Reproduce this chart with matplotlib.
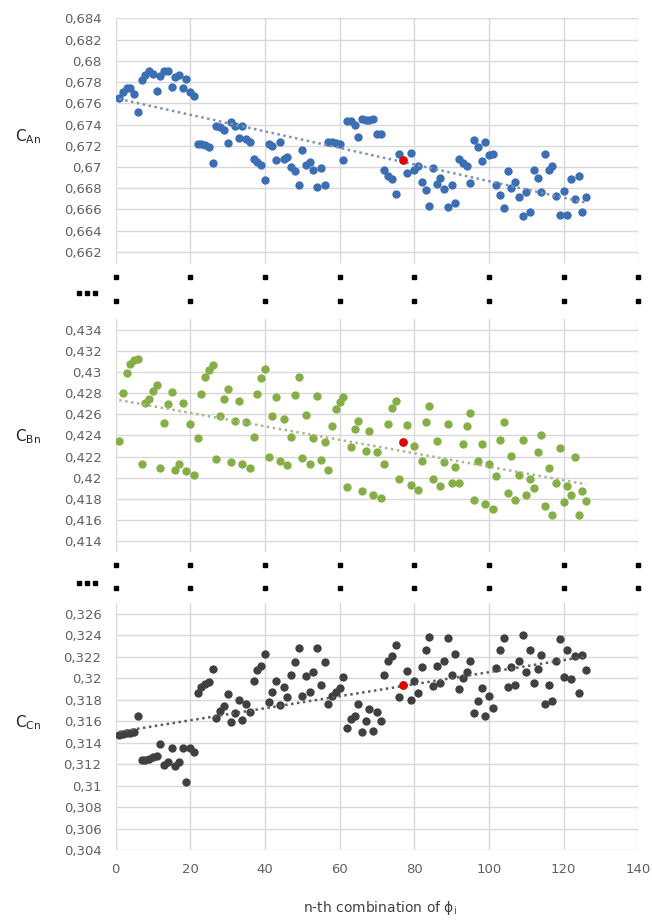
import numpy as np
import matplotlib.pyplot as plt
from matplotlib.lines import Line2D
from matplotlib.ticker import FuncFormatter
from matplotlib.transforms import blended_transform_factory

# n-th combination (x) and the three coefficients
n = list(range(1, 127))
red_n = 77

c_an = [0.6765, 0.6771, 0.6774, 0.6774, 0.6769, 0.6752, 0.6782, 0.6787, 0.6790, 0.6788,
        0.6772, 0.6786, 0.6790, 0.6790, 0.6775, 0.6785, 0.6787, 0.6774, 0.6783, 0.6771,
        0.6767, 0.6722, 0.6722, 0.6721, 0.6719, 0.6704, 0.6739, 0.6738, 0.6735, 0.6723,
        0.6742, 0.6739, 0.6727, 0.6739, 0.6726, 0.6724, 0.6708, 0.6705, 0.6702, 0.6688,
        0.6722, 0.6720, 0.6707, 0.6724, 0.6708, 0.6709, 0.6700, 0.6696, 0.6683, 0.6716,
        0.6702, 0.6705, 0.6697, 0.6681, 0.6699, 0.6683, 0.6724, 0.6724, 0.6723, 0.6722,
        0.6707, 0.6743, 0.6743, 0.6740, 0.6728, 0.6745, 0.6744, 0.6744, 0.6745, 0.6731,
        0.6731, 0.6697, 0.6692, 0.6689, 0.6675, 0.6712, 0.6707, 0.6694, 0.6713, 0.6697,
        0.6701, 0.6686, 0.6678, 0.6663, 0.6699, 0.6684, 0.6690, 0.6679, 0.6662, 0.6683,
        0.6666, 0.6708, 0.6704, 0.6701, 0.6685, 0.6725, 0.6719, 0.6706, 0.6724, 0.6711,
        0.6712, 0.6683, 0.6674, 0.6661, 0.6696, 0.6680, 0.6686, 0.6672, 0.6654, 0.6676,
        0.6658, 0.6697, 0.6690, 0.6676, 0.6712, 0.6697, 0.6701, 0.6673, 0.6655, 0.6677,
        0.6655, 0.6689, 0.6670, 0.6692, 0.6658, 0.6672]

c_bn = [0.4235, 0.4280, 0.4299, 0.4308, 0.4311, 0.4312, 0.4213, 0.4271, 0.4275, 0.4282,
        0.4288, 0.4209, 0.4252, 0.4270, 0.4281, 0.4207, 0.4213, 0.4271, 0.4206, 0.4251,
        0.4203, 0.4238, 0.4279, 0.4295, 0.4302, 0.4307, 0.4218, 0.4258, 0.4275, 0.4284,
        0.4215, 0.4254, 0.4273, 0.4213, 0.4253, 0.4209, 0.4239, 0.4279, 0.4294, 0.4303,
        0.4220, 0.4258, 0.4276, 0.4216, 0.4256, 0.4212, 0.4239, 0.4278, 0.4295, 0.4219,
        0.4259, 0.4213, 0.4238, 0.4277, 0.4217, 0.4234, 0.4207, 0.4249, 0.4265, 0.4272,
        0.4276, 0.4191, 0.4229, 0.4246, 0.4254, 0.4187, 0.4225, 0.4244, 0.4184, 0.4224,
        0.4181, 0.4213, 0.4251, 0.4266, 0.4273, 0.4199, 0.4234, 0.4250, 0.4193, 0.4230,
        0.4188, 0.4216, 0.4253, 0.4268, 0.4199, 0.4235, 0.4192, 0.4215, 0.4251, 0.4195,
        0.4210, 0.4195, 0.4232, 0.4249, 0.4261, 0.4179, 0.4216, 0.4232, 0.4175, 0.4213,
        0.4170, 0.4202, 0.4236, 0.4253, 0.4186, 0.4221, 0.4179, 0.4203, 0.4236, 0.4184,
        0.4199, 0.4190, 0.4224, 0.4240, 0.4173, 0.4209, 0.4165, 0.4195, 0.4228, 0.4177,
        0.4192, 0.4184, 0.4220, 0.4165, 0.4187, 0.4178]

c_cn = [0.3147, 0.3148, 0.3149, 0.3149, 0.3150, 0.3165, 0.3124, 0.3124, 0.3125, 0.3127,
        0.3128, 0.3139, 0.3119, 0.3122, 0.3135, 0.3118, 0.3122, 0.3135, 0.3103, 0.3135,
        0.3131, 0.3186, 0.3192, 0.3195, 0.3197, 0.3209, 0.3163, 0.3170, 0.3174, 0.3185,
        0.3159, 0.3168, 0.3180, 0.3161, 0.3176, 0.3169, 0.3198, 0.3208, 0.3212, 0.3223,
        0.3178, 0.3187, 0.3198, 0.3175, 0.3192, 0.3183, 0.3203, 0.3215, 0.3228, 0.3184,
        0.3202, 0.3187, 0.3206, 0.3228, 0.3194, 0.3215, 0.3176, 0.3184, 0.3187, 0.3191,
        0.3201, 0.3154, 0.3162, 0.3165, 0.3176, 0.3150, 0.3160, 0.3171, 0.3151, 0.3169,
        0.3160, 0.3203, 0.3216, 0.3221, 0.3231, 0.3183, 0.3194, 0.3207, 0.3180, 0.3198,
        0.3186, 0.3211, 0.3226, 0.3239, 0.3193, 0.3212, 0.3196, 0.3216, 0.3238, 0.3203,
        0.3223, 0.3190, 0.3200, 0.3206, 0.3216, 0.3168, 0.3179, 0.3191, 0.3165, 0.3184,
        0.3172, 0.3210, 0.3226, 0.3238, 0.3192, 0.3211, 0.3194, 0.3216, 0.3240, 0.3206,
        0.3226, 0.3196, 0.3209, 0.3222, 0.3176, 0.3194, 0.3179, 0.3216, 0.3237, 0.3201,
        0.3226, 0.3199, 0.3221, 0.3186, 0.3222, 0.3208]

x_ticks = [0, 20, 40, 60, 80, 100, 120, 140]
y_ticks_a = np.arange(0.662, 0.6845, 0.002)
y_ticks_b = np.arange(0.414, 0.4345, 0.002)
y_ticks_c = np.arange(0.304, 0.3265, 0.002)

W, H = 652, 921
fig = plt.figure(figsize=(W / 100, H / 100), dpi=100)


def box(top, bottom):
    return [115.5 / W, 1 - bottom / H, (638.4 - 115.5) / W, (bottom - top) / H]


fmt = FuncFormatter(lambda v, p: ('%.3f' % v).rstrip('0').replace('.', ','))

panels = [
    (c_an, '#3c6eb4', '#7b93b8', (0.661, 0.684), y_ticks_a, r'C$_{\mathregular{An}}$', box(18.3, 262.6), 137),
    (c_bn, '#86ae47', '#a8b98e', (0.413, 0.435), y_ticks_b, r'C$_{\mathregular{Bn}}$', box(319.3, 551.7), 437),
    (c_cn, '#404040', '#5c5c5c', (0.304, 0.327), y_ticks_c, r'C$_{\mathregular{Cn}}$', box(603.3, 850), 723),
]

axes = []
for vals, col, tcol, ylim, yt, lab, pos, lab_y in panels:
    ax = fig.add_axes(pos)
    ax.set_xlim(0, 140)
    ax.set_ylim(*ylim)
    ax.set_xticks(x_ticks)
    ax.set_yticks(yt)
    ax.yaxis.set_major_formatter(fmt)
    ax.grid(True, color='#d9d9d9', lw=1.0)
    ax.set_axisbelow(True)
    for s in ax.spines.values():
        s.set_visible(False)
    ax.tick_params(length=0, labelsize=9.5, labelcolor='#606060', pad=10)
    ax.tick_params(axis='x', pad=9)

    ax.scatter(n, vals, s=36, color=col, zorder=3, linewidths=0)
    k, b = np.polyfit(n, vals, 1)
    ax.plot([n[0], n[-1]], [k * n[0] + b, k * n[-1] + b], color=tcol,
            lw=1.8, ls=(0, (1, 1.4)), zorder=4)
    ax.scatter([red_n], [vals[red_n - 1]], s=38, color='#e30000', zorder=5, linewidths=0)

    fig.text(28 / W, 1 - lab_y / H, lab, ha='center', va='center', fontsize=11, color='#262626')
    axes.append(ax)

axes[0].tick_params(axis='x', labelbottom=False)
axes[1].tick_params(axis='x', labelbottom=False)

# broken-axis marks between the panels
for ax, ys in [(axes[0], [277, 301]), (axes[1], [565, 588])]:
    tr = blended_transform_factory(ax.transData, fig.transFigure)
    for y in ys:
        ax.plot(x_ticks, [1 - y / H] * len(x_ticks), ls='none', marker='s', ms=2.2,
                color='k', transform=tr, clip_on=False)
for y in [293, 583]:
    fig.add_artist(Line2D([79 / W, 87 / W, 95 / W], [1 - y / H] * 3, ls='none', marker='s',
                          ms=2.2, color='k', transform=fig.transFigure))

fig.text(380 / W, 1 - 908 / H, 'n-th combination of ϕ$_\\mathregular{i}$', ha='center', va='center',
         fontsize=10, color='#404040')

fig.savefig('out.png', dpi=100)
